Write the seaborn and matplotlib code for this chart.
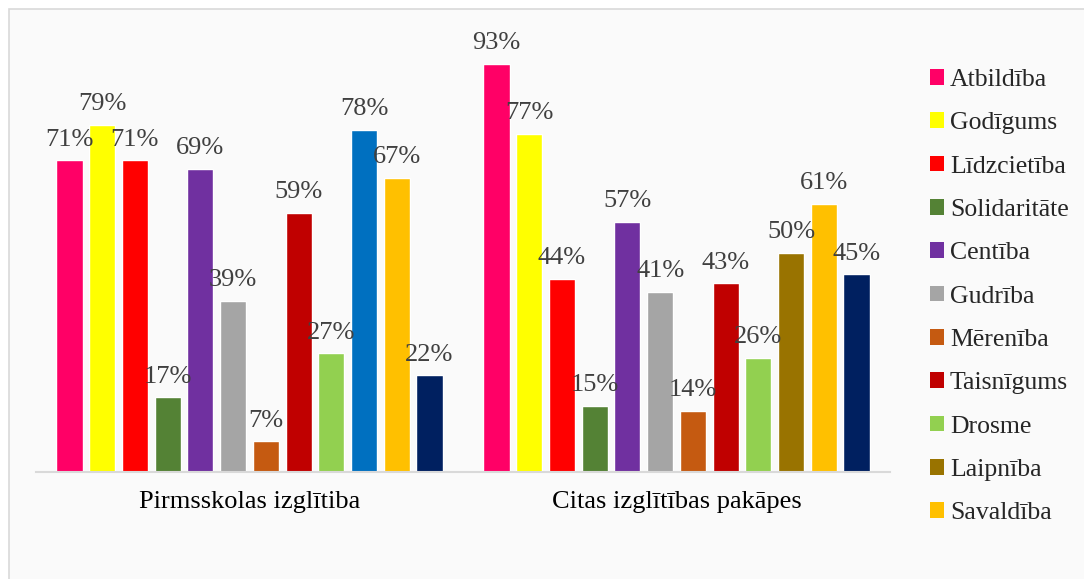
#!/usr/bin/env python3

import pandas as pd
import seaborn as sns
import matplotlib.pyplot as plt
from matplotlib.patches import Rectangle, Patch

groups = ["Pirmsskolas izglītiba", "Citas izglītības pakāpes"]
values = ["Atbildība", "Godīgums", "Līdzcietība", "Solidaritāte", "Centība",
          "Gudrība", "Mērenība", "Taisnīgums", "Drosme", "Laipnība",
          "Savaldība", "Pieticība"]
pirmsskolas = [71, 79, 71, 17, 69, 39, 7, 59, 27, 78, 67, 22]
citas = [93, 77, 44, 15, 57, 41, 14, 43, 26, 50, 61, 45]
colors = ["#FF0066", "#FFFF00", "#FF0000", "#548235", "#7030A0", "#A5A5A5",
          "#C55A11", "#C00000", "#92D050", "#997300", "#FFC000", "#002060"]
# the Laipnība bar in the first group has its own colour
laipniba_pirmsskolas_color = "#0070C0"

rows = []
for g, vals in zip(groups, [pirmsskolas, citas]):
    for v, x in zip(values, vals):
        rows.append((g, v, x))
df = pd.DataFrame(rows, columns=["grupa", "vērtība", "procenti"])

sns.set_style("white")
plt.rcParams["font.family"] = ["Liberation Serif", "DejaVu Serif"]

f = plt.figure(figsize=(10.84, 5.79), dpi=100)
f.patch.set_facecolor("white")
f.patches.append(Rectangle((9 / 1084, -0.1), 1.2, 1 - 9 / 579 + 0.1,
                           transform=f.transFigure, facecolor="#FAFAFA",
                           edgecolor="#D9D9D9", lw=1.2, zorder=-5))

ax = f.add_axes([36 / 1084, 1 - 472 / 579, (890 - 36) / 1084, (472 - 33) / 579])
ax.set_facecolor("none")
sns.barplot(data=df, x="grupa", y="procenti", hue="vērtība", order=groups,
            hue_order=values, palette=colors, width=0.92, gap=0.2,
            saturation=1, ax=ax, legend=False)

ax.containers[9][0].set_facecolor(laipniba_pirmsskolas_color)

for c in ax.containers:
    ax.bar_label(c, fmt="%d%%", padding=7, fontsize=19, color="#404040")

ax.set_ylim(0, 100)
ax.set_xlim(-0.5, 1.5)
ax.set_xlabel("")
ax.set_ylabel("")
ax.set_yticks([])
ax.tick_params(axis="x", length=0, labelsize=19, pad=14, colors="black")
for s in ["left", "right", "top"]:
    ax.spines[s].set_visible(False)
ax.spines["bottom"].set_color("#D9D9D9")
ax.spines["bottom"].set_linewidth(1.5)

handles = [Patch(facecolor=c, edgecolor="none") for c in colors[:11]]
f.legend(handles, values[:11], loc="upper left",
         bbox_to_anchor=(930 / 1084, 1 - 69 / 579), frameon=False,
         fontsize=18.5, handlelength=0.55, handleheight=0.55,
         handletextpad=0.22, labelspacing=0.83, borderpad=0, borderaxespad=0)

plt.savefig("out.png", dpi=100)
